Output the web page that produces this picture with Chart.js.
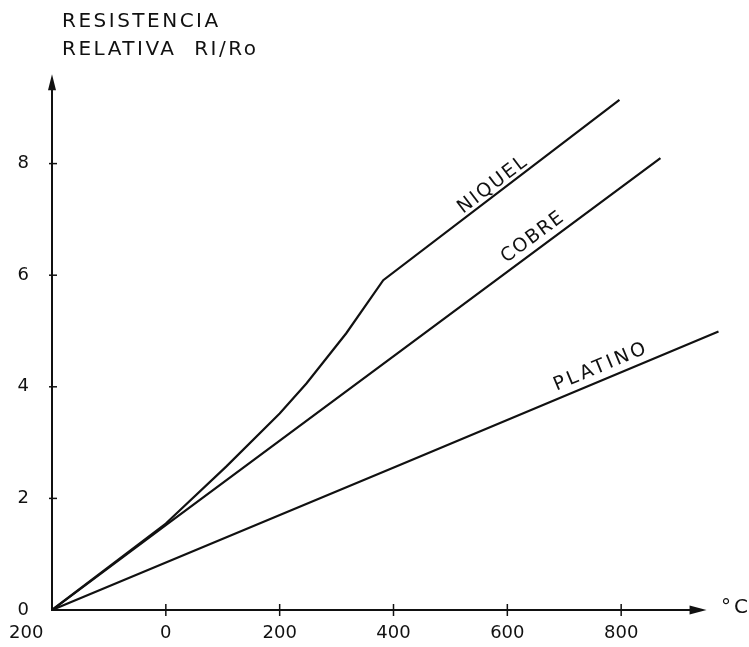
<!DOCTYPE html>
<html>
<head>
<meta charset="utf-8">
<title>Resistencia relativa</title>
<script src="https://cdn.jsdelivr.net/npm/chart.js@4"></script>
<style>
  html, body { margin: 0; padding: 0; background: #fff; }
  #wrap { width: 749px; height: 647px; }
</style>
</head>
<body>
<div id="wrap"><canvas id="chart" width="749" height="647"></canvas></div>
<script>
// ── data ──
const xTicks = [-200, 0, 200, 400, 600, 800];
const yTicks = [0, 2, 4, 6, 8];

const niquelT  = [-200, 0, 106, 200, 247, 317, 382, 797];
const niquelR  = [0, 1.55, 2.57, 3.52, 4.06, 4.96, 5.91, 9.14];
const cobreT   = [-200, 0, 411, 869];
const cobreR   = [0, 1.52, 4.63, 8.10];
const platinoT = [-200, 411, 971];
const platinoR = [0, 2.60, 4.99];

const INK  = '#111';
const FONT = '"DejaVu Sans", sans-serif';

const pts = (xs, ys) => xs.map((x, i) => ({ x, y: ys[i] }));

// curve labels: text, centre (data units), letter spacing
const curveLabels = [
  { text: 'NIQUEL',  ds: 0, x: 575, y: 7.62, sp: 2 },
  { text: 'COBRE',   ds: 1, x: 645, y: 6.68, sp: 1.5 },
  { text: 'PLATINO', ds: 2, x: 765, y: 4.36, sp: 3 },
];

// ── hand-drawn style axes, ticks and lettering ──
const drawingPlugin = {
  id: 'drawing',
  afterDraw(chart) {
    const { ctx, scales: { x, y } } = chart;
    const x0 = x.getPixelForValue(-200);
    const y0 = y.getPixelForValue(0);
    const yTop = y.getPixelForValue(9.6);
    const xEnd = x.getPixelForValue(950);

    ctx.save();
    ctx.strokeStyle = INK;
    ctx.fillStyle = INK;
    ctx.lineWidth = 2;

    // axes
    ctx.beginPath();
    ctx.moveTo(x0, yTop + 12);
    ctx.lineTo(x0, y0);
    ctx.lineTo(xEnd - 14, y0);
    ctx.stroke();

    // arrow heads
    ctx.beginPath();
    ctx.moveTo(x0, yTop);
    ctx.lineTo(x0 - 4, yTop + 16);
    ctx.lineTo(x0 + 4, yTop + 16);
    ctx.closePath();
    ctx.fill();
    ctx.beginPath();
    ctx.moveTo(xEnd, y0);
    ctx.lineTo(xEnd - 17, y0 - 4.5);
    ctx.lineTo(xEnd - 17, y0 + 4.5);
    ctx.closePath();
    ctx.fill();

    // tick marks
    ctx.lineWidth = 1.5;
    yTicks.slice(1).forEach(v => {
      const py = y.getPixelForValue(v);
      ctx.beginPath();
      ctx.moveTo(x0 - 3, py);
      ctx.lineTo(x0 + 5, py);
      ctx.stroke();
    });
    xTicks.slice(1).forEach(v => {
      const px = x.getPixelForValue(v);
      ctx.beginPath();
      ctx.moveTo(px, y0 - 6);
      ctx.lineTo(px, y0 + 6);
      ctx.stroke();
    });

    // title
    ctx.font = `20px ${FONT}`;
    ctx.letterSpacing = '2.5px';
    ctx.textBaseline = 'alphabetic';
    ctx.textAlign = 'left';
    ctx.fillText('RESISTENCIA', 62, 27);
    ctx.fillText('RELATIVA  RI/Ro', 62, 55);

    // unit
    ctx.letterSpacing = '3px';
    ctx.fillText('°C', 721, y0 + 3);

    // curve labels, rotated along their line
    ctx.font = `19px ${FONT}`;
    ctx.textAlign = 'center';
    ctx.textBaseline = 'middle';
    curveLabels.forEach(l => {
      const data = chart.data.datasets[l.ds].data;
      const a = data[data.length - 2], b = data[data.length - 1];
      const ang = Math.atan2(
        y.getPixelForValue(b.y) - y.getPixelForValue(a.y),
        x.getPixelForValue(b.x) - x.getPixelForValue(a.x));
      ctx.save();
      ctx.translate(x.getPixelForValue(l.x), y.getPixelForValue(l.y));
      ctx.rotate(ang);
      ctx.letterSpacing = l.sp + 'px';
      ctx.fillText(l.text, 0, 0);
      ctx.restore();
    });
    ctx.restore();
  },
};

const lineStyle = {
  borderColor: INK,
  borderWidth: 2.2,
  pointRadius: 0,
  tension: 0,
  fill: false,
};

new Chart(document.getElementById('chart'), {
  type: 'line',
  data: {
    datasets: [
      { label: 'Niquel',  data: pts(niquelT, niquelR),   ...lineStyle },
      { label: 'Cobre',   data: pts(cobreT, cobreR),     ...lineStyle },
      { label: 'Platino', data: pts(platinoT, platinoR), ...lineStyle, clip: false },
    ],
  },
  options: {
    responsive: false,
    animation: false,
    layout: { padding: { top: 52, right: 14, left: 0, bottom: 0 } },
    plugins: {
      legend: { display: false },
      tooltip: { enabled: false },
    },
    scales: {
      x: {
        type: 'linear',
        min: -200,
        max: 1000,
        afterFit: s => { s.height = 37; s.paddingLeft = 0; s.paddingRight = 0; },
        afterBuildTicks: s => { s.ticks = xTicks.map(v => ({ value: v })); },
        grid: { display: false, drawTicks: false },
        border: { display: false },
        ticks: {
          color: INK,
          padding: 13,
          font: { family: FONT, size: 18 },
          maxRotation: 0,
          // the first label sits left of the origin in the drawing
          callback: v => v < 0 ? String(-v) + ' '.repeat(9) : String(v),
        },
      },
      y: {
        type: 'linear',
        min: 0,
        max: 10,
        afterFit: s => { s.width = 52; s.paddingTop = 0; s.paddingBottom = 0; },
        afterBuildTicks: s => { s.ticks = yTicks.map(v => ({ value: v })); },
        grid: { display: false, drawTicks: false },
        border: { display: false },
        ticks: {
          color: INK,
          padding: 23,
          font: { family: FONT, size: 18 },
          callback: v => String(v),
        },
      },
    },
  },
  plugins: [drawingPlugin],
});
</script>
</body>
</html>
